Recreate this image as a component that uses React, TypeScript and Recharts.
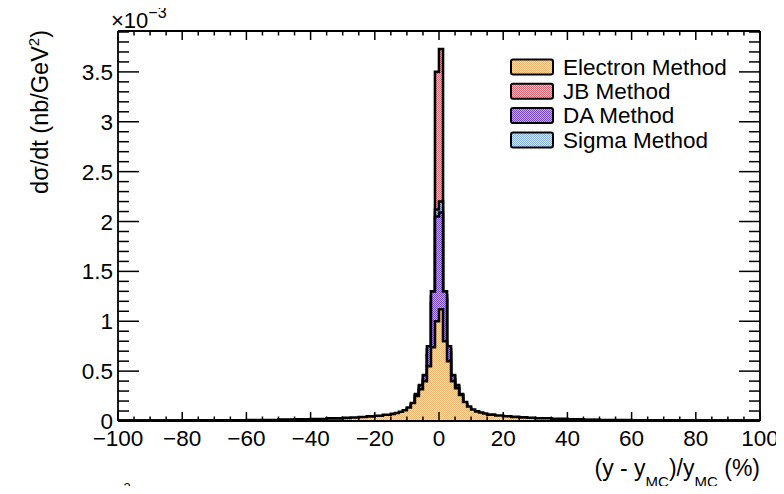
import React from 'react'
import { ComposedChart, Area, XAxis, YAxis } from 'recharts'

// bin edges in % (finer near the peak, coarser in the tails)
const binEdges = [
    -100, -80, -60, -50, -45, -40, -35, -30, -27.5, -25, -22.5, -20, -17.5, -15,
    -13.75, -12.5, -11.25, -10, -8.75, -7.5, -6.25, -5, -3.75, -2.5, -1.25, 0,
    1.25, 2.5, 3.75, 5, 6.25, 7.5, 8.75, 10, 11.25, 12.5, 13.75, 15, 17.5, 20,
    22.5, 25, 27.5, 30, 35, 40, 45, 50, 60, 80, 100,
]

// bin contents in units of 1e-3 nb/GeV^2 (one per bin, left to right)
const electron = [
    0.003, 0.006, 0.010, 0.013, 0.016, 0.020, 0.026, 0.031, 0.035, 0.040, 0.046, 0.053, 0.062,
    0.071, 0.080, 0.092, 0.108, 0.135, 0.18, 0.25, 0.32, 0.40, 0.55, 0.74, 1.00,
    1.12, 0.80, 0.60, 0.40, 0.33, 0.26, 0.19, 0.145, 0.115, 0.097, 0.085, 0.075,
    0.064, 0.055, 0.047, 0.041, 0.036, 0.032, 0.027, 0.022, 0.017, 0.013, 0.009, 0.005, 0.002,
]
const jb = [
    0.002, 0.004, 0.007, 0.009, 0.011, 0.014, 0.018, 0.021, 0.024, 0.028, 0.032, 0.037, 0.044,
    0.051, 0.058, 0.068, 0.082, 0.11, 0.15, 0.23, 0.31, 0.41, 0.66, 1.18, 3.50,
    3.73, 1.22, 0.68, 0.42, 0.32, 0.23, 0.15, 0.11, 0.085, 0.070, 0.060, 0.052,
    0.044, 0.037, 0.031, 0.026, 0.023, 0.020, 0.016, 0.013, 0.010, 0.008, 0.005, 0.003, 0.001,
]
const da = [
    0.002, 0.004, 0.007, 0.009, 0.011, 0.014, 0.018, 0.022, 0.025, 0.029, 0.034, 0.040, 0.048,
    0.056, 0.065, 0.076, 0.092, 0.125, 0.17, 0.27, 0.36, 0.46, 0.75, 1.30, 2.05,
    2.09, 1.30, 0.75, 0.46, 0.36, 0.27, 0.17, 0.125, 0.095, 0.079, 0.067, 0.058,
    0.049, 0.041, 0.034, 0.029, 0.025, 0.022, 0.018, 0.014, 0.011, 0.009, 0.006, 0.003, 0.001,
]
const sigma = [
    0.002, 0.004, 0.007, 0.009, 0.011, 0.014, 0.018, 0.022, 0.025, 0.029, 0.033, 0.039, 0.047,
    0.055, 0.063, 0.074, 0.090, 0.12, 0.165, 0.26, 0.35, 0.45, 0.72, 1.25, 2.12,
    2.20, 1.26, 0.72, 0.45, 0.35, 0.26, 0.165, 0.12, 0.092, 0.077, 0.065, 0.056,
    0.048, 0.040, 0.033, 0.028, 0.024, 0.021, 0.017, 0.014, 0.011, 0.008, 0.006, 0.003, 0.001,
]

const xMajorTicks = [-100, -80, -60, -40, -20, 0, 20, 40, 60, 80, 100]
const xTickLabels = ['\u2212100', '\u221280', '\u221260', '\u221240', '\u221220', '0', '20', '40', '60', '80', '100']
const yMajorTicks = [0, 0.5, 1, 1.5, 2, 2.5, 3, 3.5]
const yTickLabels = ['0', '0.5', '1', '1.5', '2', '2.5', '3', '3.5']
// all tick positions (major + minor): x every 5 %, y every 0.1e-3
const xAllTicks = Array.from({ length: 41 }, (_, i) => -100 + i * 5)
const yAllTicks = Array.from({ length: 40 }, (_, i) => Math.round(i * 10) / 100)

const series = [
    { key: 'jb', name: 'JB Method', color: '#e0606e', light: '#f8cdd2' },
    { key: 'sigma', name: 'Sigma Method', color: '#86aeea', light: '#dce8fa' },
    { key: 'da', name: 'DA Method', color: '#7444d6', light: '#c7b2f0' },
    { key: 'electron', name: 'Electron Method', color: '#eeb06a', light: '#fde4c8' },
]
const legendOrder = ['electron', 'jb', 'da', 'sigma']

const chartData = binEdges.map((x, i) => {
    const k = Math.min(i, electron.length - 1)
    return { x, electron: electron[k], jb: jb[k], da: da[k], sigma: sigma[k] }
})

const FONT = "'Liberation Sans', Arial, Helvetica, sans-serif"
const LINE = '#000'
const TS = 1 // recharts tick size, the drawn ticks are custom and point inwards

const majorIndex = (list: number[], v: number) => list.findIndex(m => Math.abs(m - v) < 1e-6)

const BottomTick = ({ x, y, payload }: any) => {
    const idx = majorIndex(xMajorTicks, payload.value)
    const y0 = y - TS
    return (
        <g>
            <line x1={x} x2={x} y1={y0} y2={y0 - (idx >= 0 ? 9 : 4.5)} stroke={LINE} strokeWidth={1.5} />
            {idx >= 0 && (
                <text x={x} y={y0 + 25} textAnchor="middle" fontSize={22.5} fontFamily={FONT} fill="#000">
                    {xTickLabels[idx]}
                </text>
            )}
        </g>
    )
}
const TopTick = ({ x, y, payload }: any) => {
    const y0 = y + TS
    const len = majorIndex(xMajorTicks, payload.value) >= 0 ? 9 : 4.5
    return <line x1={x} x2={x} y1={y0} y2={y0 + len} stroke={LINE} strokeWidth={1.5} />
}
const LeftTick = ({ x, y, payload }: any) => {
    const idx = majorIndex(yMajorTicks, payload.value)
    const x0 = x + TS
    return (
        <g>
            <line x1={x0} x2={x0 + (idx >= 0 ? 21 : 11)} y1={y} y2={y} stroke={LINE} strokeWidth={1.5} />
            {idx >= 0 && (
                <text x={x0 - 5} y={y} dy="0.36em" textAnchor="end" fontSize={22.5} fontFamily={FONT} fill="#000">
                    {yTickLabels[idx]}
                </text>
            )}
        </g>
    )
}
const RightTick = ({ x, y, payload }: any) => {
    const x0 = x - TS
    const len = majorIndex(yMajorTicks, payload.value) >= 0 ? 21 : 11
    return <line x1={x0} x2={x0 - len} y1={y} y2={y} stroke={LINE} strokeWidth={1.5} />
}

const frame = { stroke: LINE, strokeWidth: 1.8 }

export default function App() {
    const byKey = Object.fromEntries(series.map(s => [s.key, s]))
    return (
        <div style={{ position: 'relative', width: 784, height: 494, margin: -8, background: '#fff', fontFamily: FONT }}>
            <svg width={0} height={0} style={{ position: 'absolute' }}>
                <defs>
                    {series.map(s => (
                        <pattern key={s.key} id={`pat-${s.key}`} width={2} height={2} patternUnits="userSpaceOnUse">
                            <rect width={2} height={2} fill={s.light} />
                            <rect x={0} y={0} width={1} height={1} fill={s.color} />
                            <rect x={1} y={1} width={1} height={1} fill={s.color} />
                        </pattern>
                    ))}
                </defs>
            </svg>
            <ComposedChart width={784} height={494} data={chartData} margin={{ top: 30, right: 23, bottom: 72, left: 117 }}>
                <XAxis xAxisId="xb" dataKey="x" type="number" domain={[-100, 100]} allowDataOverflow
                    ticks={xAllTicks} interval={0} height={1} tickSize={TS} tickMargin={0}
                    axisLine={frame} tickLine={false} tick={(p: any) => <BottomTick {...p} />} />
                <XAxis xAxisId="xt" orientation="top" dataKey="x" type="number" domain={[-100, 100]} allowDataOverflow
                    ticks={xAllTicks} interval={0} height={1} tickSize={TS} tickMargin={0}
                    axisLine={frame} tickLine={false} tick={(p: any) => <TopTick {...p} />} />
                <YAxis yAxisId="yl" type="number" domain={[0, 3.91]} allowDataOverflow
                    ticks={yAllTicks} interval={0} width={1} tickSize={TS} tickMargin={0}
                    axisLine={frame} tickLine={false} tick={(p: any) => <LeftTick {...p} />} />
                <YAxis yAxisId="yr" orientation="right" type="number" domain={[0, 3.91]} allowDataOverflow
                    ticks={yAllTicks} interval={0} width={1} tickSize={TS} tickMargin={0}
                    axisLine={frame} tickLine={false} tick={(p: any) => <RightTick {...p} />} />
                {series.map(s => (
                    <Area key={s.key} xAxisId="xb" yAxisId="yl" dataKey={s.key} type="stepAfter"
                        stroke="#000" strokeWidth={2.6} fill={`url(#pat-${s.key})`} fillOpacity={1}
                        dot={false} activeDot={false} isAnimationActive={false} />
                ))}
            </ComposedChart>

            <svg width={784} height={494} style={{ position: 'absolute', left: 0, top: 0, pointerEvents: 'none' }}
                fontFamily={FONT} fill="#000">
                <text x={111} y={28} fontSize={22}>
                    ×10<tspan dy={-10} fontSize={16}>{'\u2212'}3</tspan>
                </text>
                <text x={116} y={492} fontSize={13}>{'\u2212'}3</text>
                <text transform="rotate(-90)" x={-30} y={48} textAnchor="end" fontSize={23.5}>
                    dσ/dt (nb/GeV<tspan dy={-9} fontSize={15}>2</tspan><tspan dy={9}>)</tspan>
                </text>
                <text x={760} y={476} textAnchor="end" fontSize={23}>
                    (y - y<tspan dy={11} fontSize={15}>MC</tspan><tspan dy={-11}>)/y</tspan><tspan dy={11} fontSize={15}>MC</tspan><tspan dy={-11}> (%)</tspan>
                </text>
                {legendOrder.map((k, i) => {
                    const s = byKey[k]
                    const cy = 67 + i * 24.3
                    return (
                        <g key={k}>
                            <rect x={511} y={cy - 7.5} width={42} height={15} rx={2} fill={`url(#pat-${k})`} stroke="#000" strokeWidth={2} />
                            <text x={563} y={cy} dy="0.35em" fontSize={22.5}>{s.name}</text>
                        </g>
                    )
                })}
            </svg>
        </div>
    )
}
